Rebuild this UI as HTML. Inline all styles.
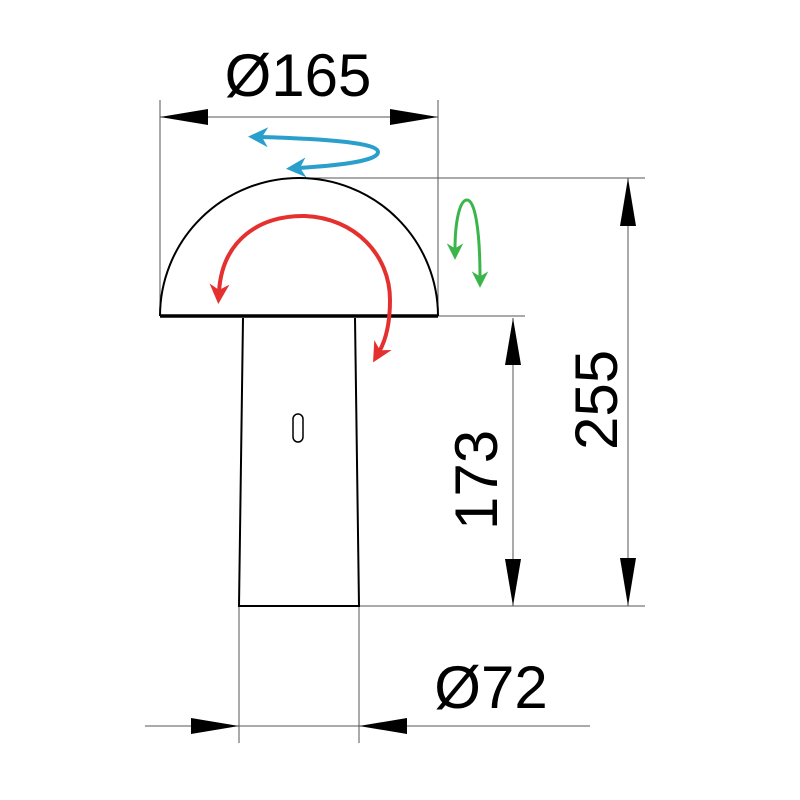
<!DOCTYPE html>
<html><head><style>body{margin:0;background:#fff}</style></head><body>
<svg width="800" height="800" viewBox="0 0 800 800" xmlns="http://www.w3.org/2000/svg" style="display:block">
<defs>
<marker id="b" viewBox="0 0 10 10" refX="4" refY="5" markerWidth="5" markerHeight="5" orient="auto-start-reverse"><path d="M0,0L10,5L0,10L3,5z" fill="#2a9fcc"/></marker>
<marker id="r" viewBox="0 0 10 10" refX="4" refY="5" markerWidth="5" markerHeight="5" orient="auto-start-reverse"><path d="M0,0L10,5L0,10L3,5z" fill="#e53030"/></marker>
<marker id="g" viewBox="0 0 10 10" refX="4" refY="5" markerWidth="5.5" markerHeight="5.5" orient="auto-start-reverse"><path d="M0,0L10,5L0,10L3,5z" fill="#3bb54a"/></marker>
</defs>
<g stroke="#555" stroke-width="1" fill="none">
<line x1="160" y1="100" x2="160" y2="316"/>
<line x1="438" y1="100" x2="438" y2="316"/>
<line x1="160" y1="117" x2="438" y2="117"/>
<line x1="300" y1="178" x2="645" y2="178"/>
<line x1="438" y1="316" x2="525" y2="316"/>
<line x1="359" y1="606" x2="645" y2="606"/>
<line x1="628" y1="178" x2="628" y2="606"/>
<line x1="513" y1="318" x2="513" y2="606"/>
<line x1="239" y1="606" x2="239" y2="743"/>
<line x1="359" y1="606" x2="359" y2="743"/>
<line x1="145" y1="726" x2="590" y2="726"/>
</g>
<g fill="#000">
<path d="M160,117L208,109L208,125z"/>
<path d="M438,117L390,109L390,125z"/>
<path d="M628,178L620,226L636,226z"/>
<path d="M628,606L620,558L636,558z"/>
<path d="M513,318L505,365L521,365z"/>
<path d="M513,606L505,559L521,559z"/>
<path d="M239,726L191,718L191,734z"/>
<path d="M359,726L407,718L407,734z"/>
</g>
<g stroke="#000" fill="none">
<path d="M160,316 A139,138 0 0 1 438,316" stroke-width="2"/>
<line x1="160" y1="316" x2="438" y2="316" stroke-width="3.5"/>
<path d="M243,318 L239,606 L359,606 L355,318" stroke-width="2"/>
<rect x="293" y="414" width="10" height="28" rx="5" stroke-width="1.5"/>
</g>
<g fill="none" stroke-width="4">
<path d="M260,137 C330,139 378,143 378,152 C378,162 330,166 298,168" stroke="#2a9fcc" marker-start="url(#b)" marker-end="url(#b)"/>
<path d="M219,292 C222,240 260,215 305,216 C355,218 390,255 390,300 C390,330 383,345 379,352" stroke="#e53030" marker-start="url(#r)" marker-end="url(#r)"/>
<path d="M455,250 C455,220 460,200 467,200 C475,200 480,230 480,278" stroke="#3bb54a" stroke-width="3" marker-start="url(#g)" marker-end="url(#g)"/>
</g>
<g font-family="Liberation Sans, sans-serif" font-size="60" fill="#000">
<text x="298" y="96" text-anchor="middle">Ø165</text>
<text x="491" y="708" text-anchor="middle">Ø72</text>
<text transform="translate(617,400) rotate(-90)" text-anchor="middle">255</text>
<text transform="translate(497,480) rotate(-90)" text-anchor="middle">173</text>
</g>
</svg>
</body></html>
